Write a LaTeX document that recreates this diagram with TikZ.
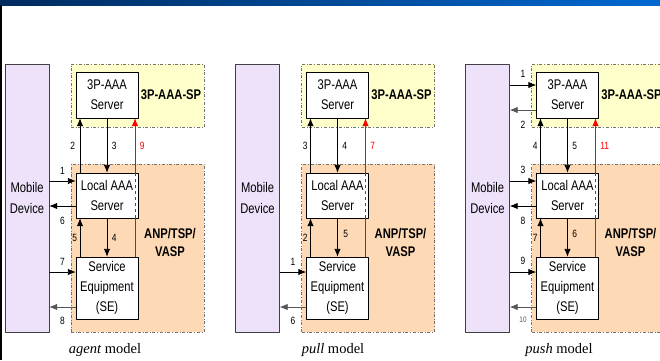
\documentclass[tikz,border=0pt]{standalone}
\usepackage{fontspec}
\setmainfont{Liberation Serif}
\newfontfamily\narrowsf[FakeStretch=0.8]{Liberation Sans}
\usetikzlibrary{arrows.meta}
\definecolor{spyellow}{HTML}{FFFFCC}
\definecolor{anporange}{HTML}{FDD9B5}
\definecolor{mdlilac}{HTML}{EEE2FA}
\definecolor{slidenavy}{HTML}{002B5E}
\definecolor{slideblue}{HTML}{0068D0}
\definecolor{arrgray}{HTML}{555555}

% frame of one model: mobile device, the two domains and the three boxes
\newcommand\modelpanel[2]{% #1 = shift, #2 = suffix
  \begin{scope}[xshift=#1pt]
    \node[mdbox] (md#2) at (27,198) {Mobile\\Device};
    \node[region, fill=spyellow, minimum height=63pt] (sp#2) at (137.5,95.5) {};
    \node[region, fill=anporange, minimum height=168pt] (anp#2) at (137.5,248) {};
    \node[regionlbl] (splbl#2) at (171,95) {3P-AAA-SP};
    \node[regionlbl] (anplbl#2) at (170,242) {ANP/TSP/\\VASP};
    \node[srvbox, minimum height=46pt] (srv#2) at (107,95) {3P-AAA\\Server};
    \node[srvbox, minimum height=45pt] (loc#2) at (107,195.5) {Local AAA\\Server};
    \node[srvbox, minimum height=62pt] (se#2) at (107,288) {Service\\Equipment\\(SE)};
  \end{scope}}

\begin{document}
\begin{tikzpicture}[x=1pt, y=-1pt, >={Latex[length=8pt,width=6.5pt]}, line join=round,
  mdbox/.style={draw=black!75, fill=mdlilac, minimum width=44pt, minimum height=268pt, inner sep=0pt,
    align=center, font=\narrowsf\fontsize{14}{21}\selectfont},
  region/.style={draw=black!55, dash dot, line width=0.7pt, minimum width=133pt, inner sep=0pt},
  regionlbl/.style={align=center, inner sep=0pt, font=\narrowsf\bfseries\fontsize{14}{18}\selectfont},
  srvbox/.style={draw, fill=white, minimum width=62pt, inner sep=0pt, align=center,
    font=\narrowsf\fontsize{14}{20}\selectfont},
  arr/.style={->, line width=0.9pt},
  grayarr/.style={arr, draw=arrgray, fill=arrgray},
  redline/.style={draw=red, line width=0.8pt},
  lbl/.style={inner sep=1.5pt, font=\narrowsf\fontsize{10.5}{12}\selectfont},
  captxt/.style={inner sep=0pt, font=\fontsize{14.5}{17}\selectfont}]
\useasboundingbox (0,0) rectangle (660,360);
\clip (0,0) rectangle (660,360);
\shade[left color=slidenavy, right color=slideblue] (0,0) rectangle (660,5);
\fill[black] (0,5) rectangle (2,360);

\modelpanel{0}{A}
\modelpanel{230.5}{B}
\modelpanel{460.5}{C}

% agent model
\coordinate (inA1) at ([yshift=14.5pt]locA.west);
\coordinate (outA6) at ([yshift=-10.5pt]locA.west);
\coordinate (inA7) at ([yshift=16pt]seA.west);
\coordinate (outA8) at ([yshift=-19pt]seA.west);
\draw[arr] (inA1 -| mdA.east) -- node[lbl, above=5pt] (nA1) {1} (inA1);
\draw[arr] ([xshift=-27pt]locA.north) -- node[lbl, left=3pt] (nA2) {2} ([xshift=-27pt]srvA.south);
\draw[arr] (srvA.south) -- node[lbl, right=3pt] (nA3) {3} (locA.north);
\draw[arr] (locA.south) -- node[lbl, right=3pt] (nA4) {4} (seA.north);
\draw[arr] ([xshift=-27pt]seA.north) -- node[lbl, left=1pt] (nA5) {5} ([xshift=-27pt]locA.south);
\draw[arr] (outA6) -- node[lbl, below=9pt] (nA6) {6} (outA6 -| mdA.east);
\draw[arr] (inA7 -| mdA.east) -- node[lbl, above=5pt] (nA7) {7} (inA7);
\draw[grayarr] (outA8) -- node[lbl, below=8pt, text=black] (nA8) {8} (outA8 -| mdA.east);
\draw[redline] ([xshift=28pt]seA.north) -- ([xshift=28pt]locA.south);
\draw[redline, dashed] ([xshift=28pt]locA.south) -- ([xshift=28pt]locA.north);
\draw[redline, ->, fill=red] ([xshift=28pt]locA.north) -- node[lbl, right=3pt, text=red] (nA9) {9} ([xshift=28pt]srvA.south);

% pull model
\coordinate (inB1) at ([yshift=16pt]seB.west);
\coordinate (outB6) at ([yshift=-19pt]seB.west);
\draw[arr] (inB1 -| mdB.east) -- node[lbl, above=5pt] (nB1) {1} (inB1);
\draw[arr] ([xshift=-27pt]seB.north) -- node[lbl, left=1pt] (nB2) {2} ([xshift=-27pt]locB.south);
\draw[arr] ([xshift=-27pt]locB.north) -- node[lbl, left=1pt] (nB3) {3} ([xshift=-27pt]srvB.south);
\draw[arr] (srvB.south) -- node[lbl, right=3pt] (nB4) {4} (locB.north);
\draw[arr] (locB.south) -- node[lbl, right=4pt, pos=0.4] (nB5) {5} (seB.north);
\draw[grayarr] (outB6) -- node[lbl, below=8pt, text=black] (nB6) {6} (outB6 -| mdB.east);
\draw[redline] ([xshift=28pt]seB.north) -- ([xshift=28pt]locB.south);
\draw[redline, dashed] ([xshift=28pt]locB.south) -- ([xshift=28pt]locB.north);
\draw[redline, ->, fill=red] ([xshift=28pt]locB.north) -- node[lbl, right=3pt, text=red] (nB7) {7} ([xshift=28pt]srvB.south);

% push model
\coordinate (inC1) at ([yshift=10pt]srvC.west);
\coordinate (outC2) at ([yshift=-15pt]srvC.west);
\coordinate (inC3) at ([yshift=14.5pt]locC.west);
\coordinate (outC8) at ([yshift=-10.5pt]locC.west);
\coordinate (inC9) at ([yshift=16pt]seC.west);
\coordinate (outC10) at ([yshift=-19pt]seC.west);
\draw[arr] (inC1 -| mdC.east) -- node[lbl, above=6pt] (nC1) {1} (inC1);
\draw[grayarr] (outC2) -- node[lbl, below=9pt, text=black] (nC2) {2} (outC2 -| mdC.east);
\draw[arr] (inC3 -| mdC.east) -- node[lbl, above=5pt] (nC3) {3} (inC3);
\draw[arr] ([xshift=-27pt]locC.north) -- node[lbl, left=1pt] (nC4) {4} ([xshift=-27pt]srvC.south);
\draw[arr] (srvC.south) -- node[lbl, right=3pt] (nC5) {5} (locC.north);
\draw[arr] (locC.south) -- node[lbl, right=3pt, pos=0.4] (nC6) {6} (seC.north);
\draw[arr] ([xshift=-27pt]seC.north) -- node[lbl, left=1pt] (nC7) {7} ([xshift=-27pt]locC.south);
\draw[arr] (outC8) -- node[lbl, below=9pt] (nC8) {8} (outC8 -| mdC.east);
\draw[arr] (inC9 -| mdC.east) -- node[lbl, above=5pt] (nC9) {9} (inC9);
\draw[grayarr] (outC10) -- node[lbl, below=8pt, text=arrgray, font=\narrowsf\fontsize{8}{10}\selectfont] (nC10) {10} (outC10 -| mdC.east);
\draw[redline] ([xshift=28pt]seC.north) -- ([xshift=28pt]locC.south);
\draw[redline, dashed] ([xshift=28pt]locC.south) -- ([xshift=28pt]locC.north);
\draw[redline, ->, fill=red] ([xshift=28pt]locC.north) -- node[lbl, right=3pt, text=red] (nC11) {11} ([xshift=28pt]srvC.south);

% captions
\node[captxt] (capA) at (105,350) {\textit{agent} model};
\node[captxt] (capB) at (333,350) {\textit{pull} model};
\node[captxt] (capC) at (559,350) {\textit{push} model};
\end{tikzpicture}
\end{document}
